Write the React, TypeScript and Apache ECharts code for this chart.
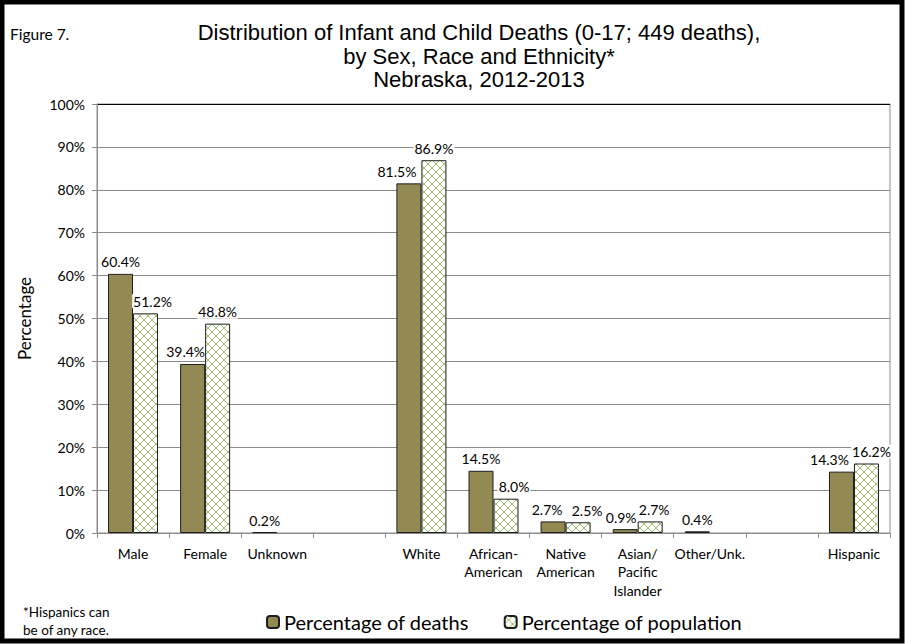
import React, { useEffect, useRef } from "react";
import * as echarts from "echarts";

const categories = [
  "Male",
  "Female",
  "Unknown",
  "",
  "White",
  "African-\nAmerican",
  "Native\nAmerican",
  "Asian/\nPacific\nIslander",
  "Other/Unk.",
  "",
  "Hispanic",
];
const deaths: (number | null)[] = [60.4, 39.4, 0.2, null, 81.5, 14.5, 2.7, 0.9, 0.4, null, 14.3];
const population: (number | null)[] = [51.2, 48.8, null, null, 86.9, 8.0, 2.5, 2.7, null, null, 16.2];
const yTicks = [0, 10, 20, 30, 40, 50, 60, 70, 80, 90, 100];
// horizontal nudges of data labels (Excel-style collision avoidance)
const deathLabelShift = [0, -7, 0, 0, -12, 0, -6, -4, 0, 0, -12];
const popLabelShift = [7, 0, 0, 0, 0, 8, 9, 4, 0, 0, 5];

function makePattern(): HTMLCanvasElement {
  const c = document.createElement("canvas");
  c.width = 8;
  c.height = 8;
  const ctx = c.getContext("2d")!;
  ctx.fillStyle = "#ffffff";
  ctx.fillRect(0, 0, 8, 8);
  ctx.strokeStyle = "#9fbd6e";
  ctx.lineWidth = 1;
  ctx.beginPath();
  ctx.moveTo(0, 0);
  ctx.lineTo(8, 8);
  ctx.moveTo(8, 0);
  ctx.lineTo(0, 8);
  ctx.stroke();
  return c;
}

export default function App() {
  const ref = useRef<HTMLDivElement>(null);
  useEffect(() => {
    document.body.style.margin = "0";
    const chart = echarts.init(ref.current!, null, { renderer: "svg" });
    const pat = makePattern();
    const labelFont = "Lato, 'Open Sans', sans-serif";
    const fmt = (p: any) => (p.value == null ? "" : Number(p.value).toFixed(1) + "%");
    const splitColors = yTicks.map((t) => (t === 100 ? "#000000" : "#8c8c8c"));
    chart.setOption({
      animation: false,
      backgroundColor: "#ffffff",
      textStyle: { fontFamily: labelFont },
      grid: { left: 97, right: 15, top: 104, bottom: 111, show: true, borderColor: "#8c8c8c", borderWidth: 1 },
      legend: {
        left: 261,
        top: 607,
        itemWidth: 12,
        itemHeight: 12,
        itemGap: 35,
        textStyle: { fontSize: 20, fontFamily: labelFont, color: "#000", padding: [0, 0, 0, 0] },
        data: ["Percentage of deaths", "Percentage of population"],
      },
      xAxis: {
        type: "category",
        data: categories,
        axisLine: { lineStyle: { color: "#8c8c8c" } },
        axisTick: { show: true, length: 5, lineStyle: { color: "#8c8c8c" } },
        axisLabel: { fontSize: 14, lineHeight: 18.5, color: "#000", margin: 11, interval: 0, fontFamily: labelFont },
      },
      yAxis: {
        type: "value",
        min: 0,
        max: 100,
        interval: 10,
        name: "Percentage",
        nameLocation: "middle",
        nameGap: 64,
        nameTextStyle: { fontSize: 17, color: "#000", fontFamily: labelFont },
        axisLine: { show: true, lineStyle: { color: "#8c8c8c" } },
        axisTick: { show: true, length: 5, lineStyle: { color: "#8c8c8c" } },
        axisLabel: { formatter: "{value}%", fontSize: 14, color: "#000", margin: 12, fontFamily: labelFont },
        splitLine: { show: true, lineStyle: { color: splitColors, width: 1 } },
      },
      series: [
        {
          name: "Percentage of deaths",
          type: "bar",
          data: deaths,
          barWidth: 25,
          barGap: "0%",
          itemStyle: { color: "#938953", borderColor: "#1e1e1e", borderWidth: 1 },
          label: { show: true, position: "top", distance: 5, formatter: fmt, fontSize: 14, color: "#000", fontFamily: labelFont },
          labelLayout: (p: any) => ({ dx: deathLabelShift[p.dataIndex] || 0 }),
        },
        {
          name: "Percentage of population",
          type: "bar",
          data: population,
          barWidth: 25,
          itemStyle: {
            color: { image: pat, repeat: "repeat", imageWidth: 8, imageHeight: 8 },
            borderColor: "#1e1e1e",
            borderWidth: 1,
          },
          label: {
            show: true,
            position: "top",
            distance: 5,
            formatter: fmt,
            fontSize: 14,
            color: "#000",
            fontFamily: labelFont,
            backgroundColor: "#ffffff",
            padding: [0, 1],
          },
          labelLayout: (p: any) => ({ dx: popLabelShift[p.dataIndex] || 0 }),
        },
      ],
      graphic: [
        {
          type: "rect",
          shape: { x: 2, y: 2, width: 900, height: 639 },
          style: { fill: "none", stroke: "#000", lineWidth: 5 },
          silent: true,
        },
        {
          type: "text",
          left: 10,
          top: 26,
          style: { text: "Figure 7.", fontSize: 15.5, fontFamily: labelFont, fill: "#000" },
        },
        {
          type: "text",
          x: 479,
          y: 21,
          style: {
            text: "Distribution of Infant and Child Deaths (0-17; 449 deaths),\nby Sex, Race and Ethnicity*\nNebraska, 2012-2013",
            fontSize: 22,
            lineHeight: 23.5,
            fontFamily: "'Liberation Sans', Arial, sans-serif",
            fill: "#000",
            align: "center",
          },
        },
        {
          type: "text",
          left: 23,
          top: 603,
          style: {
            text: "*Hispanics can\nbe of any race.",
            fontSize: 13.5,
            lineHeight: 18,
            fontFamily: labelFont,
            fill: "#000",
          },
        },
      ],
    });
    return () => chart.dispose();
  }, []);
  return <div ref={ref} style={{ position: "absolute", left: 0, top: 0, width: 905, height: 644 }} />;
}
